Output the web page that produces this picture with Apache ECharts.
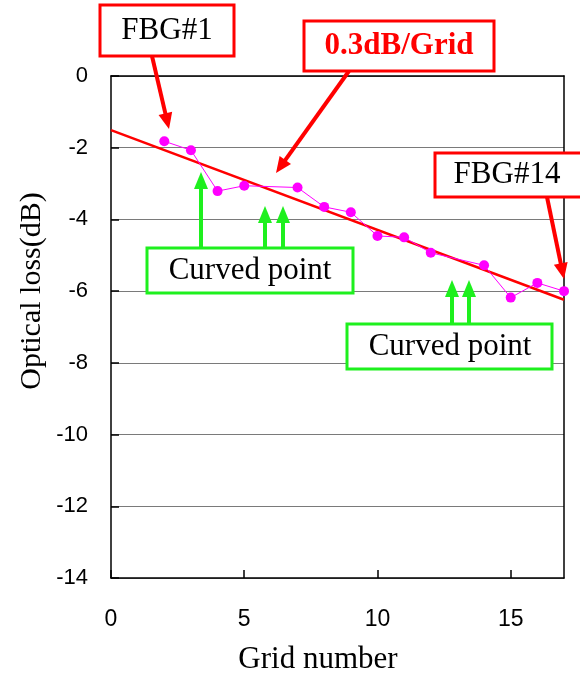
<!DOCTYPE html>
<html>
<head>
<meta charset="utf-8">
<script src="https://cdn.jsdelivr.net/npm/echarts@6/dist/echarts.min.js"></script>
<style>
  html, body { margin: 0; padding: 0; background: #fff; }
  #chart { width: 580px; height: 678px; }
</style>
</head>
<body>
<div id="chart"></div>
<script>
// grid number of each FBG (FBG#1 .. FBG#14)
var grids = [2, 3, 4, 5, 7, 8, 9, 10, 11, 12, 14, 15, 16, 17]
// measured optical loss (dB)
var loss = [-1.82, -2.07, -3.21, -3.06, -3.11, -3.65, -3.80, -4.46, -4.50, -4.93, -5.28, -6.18, -5.77, -6.00]
// linear fit end points (~0.3 dB/grid)
var fitX = [0, 17]
var fitY = [-1.51, -6.24]

var xTicks = [0, 5, 10, 15]
var yTicks = [0, -2, -4, -6, -8, -10, -12, -14]

var serif = '"Liberation Serif", "DejaVu Serif", serif'
var sans = '"Liberation Sans", Arial, sans-serif'
var RED = '#ff0000'
var GREEN = '#1ef01e'

// arrow = shaft + filled head, pixel coords of the annotation layer
function arrow (x1, y1, x2, y2, color, lw, hl, hw) {
  var dx = x2 - x1, dy = y2 - y1
  var len = Math.sqrt(dx * dx + dy * dy)
  var ux = dx / len, uy = dy / len
  var bx = x2 - ux * hl, by = y2 - uy * hl
  return [
    {
      type: 'line', z: 100,
      shape: { x1: x1, y1: y1, x2: bx + ux * 2, y2: by + uy * 2 },
      style: { stroke: color, lineWidth: lw }
    },
    {
      type: 'polygon', z: 100,
      shape: { points: [[x2, y2], [bx - uy * hw / 2, by + ux * hw / 2], [bx + uy * hw / 2, by - ux * hw / 2]] },
      style: { fill: color }
    }
  ]
}

function box (x, y, w, h, color, text, tx, ty, textColor, bold) {
  return [
    {
      type: 'rect', z: 101,
      shape: { x: x, y: y, width: w, height: h },
      style: { fill: '#fff', stroke: color, lineWidth: 3 }
    },
    {
      type: 'text', z: 102, x: tx, y: ty,
      style: {
        text: text, fill: textColor,
        font: (bold ? 'bold ' : '') + '31px ' + serif,
        align: 'center', verticalAlign: 'middle',
        textAlign: 'center', textVerticalAlign: 'middle'
      }
    }
  ]
}

var annotations = [].concat(
  arrow(152, 56, 169, 129, RED, 4, 16, 14),
  arrow(349, 71, 276, 173, RED, 4, 16, 14),
  arrow(547, 197, 564, 279, RED, 4, 16, 14),
  arrow(201, 248, 201, 172, GREEN, 4, 17, 14),
  arrow(265, 248, 265, 206, GREEN, 4, 17, 14),
  arrow(283, 248, 283, 206, GREEN, 4, 17, 14),
  arrow(452, 324, 452, 280, GREEN, 4, 17, 14),
  arrow(469, 324, 469, 280, GREEN, 4, 17, 14),
  box(100, 5, 134, 51, RED, 'FBG#1', 167, 31, '#000', false),
  box(304, 21, 190, 50, RED, '0.3dB/Grid', 399, 46, RED, true),
  box(435, 153, 150, 44, RED, 'FBG#14', 507, 175, '#000', false),
  box(147, 248, 206, 45, GREEN, 'Curved point', 250, 271, '#000', false),
  box(347, 324, 205, 45, GREEN, 'Curved point', 450, 347, '#000', false),
  [
    {
      type: 'text', x: 32, y: 291, rotation: Math.PI / 2,
      style: {
        text: 'Optical loss(dB)', fill: '#000', font: '30px ' + serif,
        align: 'center', verticalAlign: 'middle',
        textAlign: 'center', textVerticalAlign: 'middle'
      }
    },
    {
      type: 'text', x: 318, y: 660,
      style: {
        text: 'Grid number', fill: '#000', font: '31px ' + serif,
        align: 'center', verticalAlign: 'middle',
        textAlign: 'center', textVerticalAlign: 'middle'
      }
    }
  ]
)

// plain frame axes for the top and right edges
var frameAxis = {
  type: 'value',
  axisLine: { show: true, onZero: false, lineStyle: { color: '#000', width: 1.5 } },
  axisTick: { show: false },
  axisLabel: { show: false },
  splitLine: { show: false }
}

var chart = echarts.init(document.getElementById('chart'))
chart.setOption({
  animation: false,
  backgroundColor: '#fff',
  grid: { left: 111, right: 16, top: 76, bottom: 100 },
  xAxis: [
    {
      type: 'value', min: 0, max: 17, interval: 5,
      axisLine: { onZero: false, lineStyle: { color: '#000', width: 1.5 } },
      axisTick: { inside: true, length: 8, lineStyle: { color: '#000', width: 1.5 } },
      splitLine: { show: false },
      axisLabel: {
        showMaxLabel: false, margin: 30, color: '#000',
        fontFamily: sans, fontSize: 23,
        formatter: function (v) { return xTicks.indexOf(v) >= 0 ? String(v) : '' }
      }
    },
    Object.assign({ position: 'top', min: 0, max: 17 }, frameAxis)
  ],
  yAxis: [
    {
      type: 'value', min: -14, max: 0, interval: 2,
      axisLine: { onZero: false, lineStyle: { color: '#000', width: 1.5 } },
      axisTick: { inside: true, length: 8, lineStyle: { color: '#000', width: 1.5 } },
      splitLine: { lineStyle: { color: '#7a7a7a', width: 1.2 } },
      axisLabel: {
        margin: 23, color: '#000', fontFamily: sans, fontSize: 22,
        formatter: function (v) { return yTicks.indexOf(v) >= 0 ? String(v) : '' }
      }
    },
    Object.assign({ position: 'right', min: -14, max: 0 }, frameAxis)
  ],
  series: [
    {
      name: 'fit', type: 'line', z: 3,
      data: fitX.map(function (x, i) { return [x, fitY[i]] }),
      symbol: 'none',
      lineStyle: { color: RED, width: 2.5 }
    },
    {
      name: 'loss', type: 'line', z: 4,
      data: grids.map(function (g, i) { return [g, loss[i]] }),
      symbol: 'circle', symbolSize: 10,
      itemStyle: { color: '#ff00ff' },
      lineStyle: { color: '#ff00ff', width: 1 }
    }
  ],
  graphic: annotations
})
</script>
</body>
</html>
